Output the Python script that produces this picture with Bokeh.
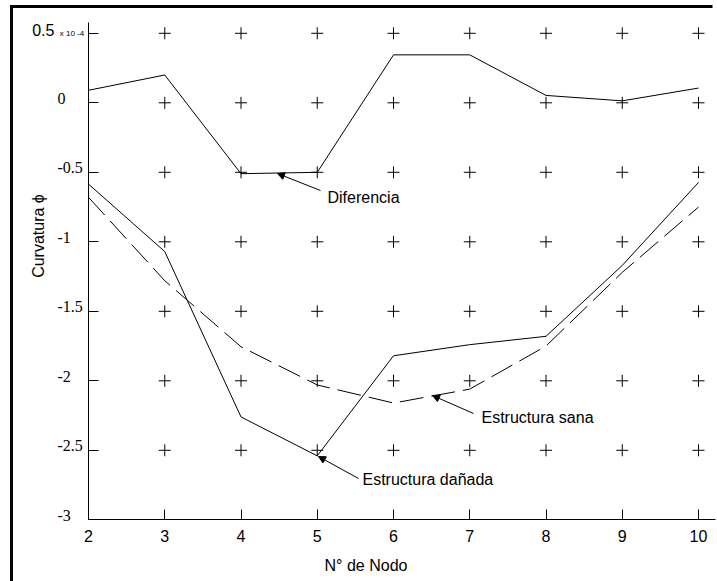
import math
from bokeh.plotting import figure
from bokeh.models import (Range1d, FixedTicker, Label, LabelSet, ColumnDataSource,
                          Arrow, NormalHead, BoxAnnotation, LinearAxis)
from bokeh.embed import file_html
from bokeh.resources import INLINE

# ---- data ----
nodes = [2, 3, 4, 5, 6, 7, 8, 9, 10]
diferencia = [0.09, 0.20, -0.51, -0.50, 0.345, 0.345, 0.053, 0.014, 0.106]
danada = [-0.585, -1.07, -2.26, -2.54, -1.82, -1.74, -1.68, -1.17, -0.573]
sana = [-0.68, -1.28, -1.755, -2.03, -2.16, -2.06, -1.75, -1.22, -0.75]

x_ticks = [2, 3, 4, 5, 6, 7, 8, 9, 10]
y_ticks = [-3, -2.5, -2, -1.5, -1, -0.5, 0, 0.5]
y_tick_labels = ["-3", "-2.5", "-2", "-1.5", "-1", "-0.5", "0", "0.5"]
x_title = "N° de Nodo"
y_title = "Curvatura ϕ"
y_multiplier = "x 10 -4"
annotation_texts = ["Diferencia", "Estructura sana", "Estructura dañada"]

FONT = "Liberation Sans"
W, H = 717, 581

# layout: the frame fills the whole canvas, axes are pinned at x=2 / y=-3
PX_X = 76.25           # pixels per x unit
PX_Y = 139.0           # pixels per y unit
X0_PX, YM3_PX = 88.0, 519.3   # pixel position of x=2 and y=-3
x_start = 2 - X0_PX / PX_X
x_end = 2 + (W - X0_PX) / PX_X
y_start = -3 - (H - YM3_PX) / PX_Y
y_end = -3 + YM3_PX / PX_Y
X_MAX = 10.223
Y_MAX = 0.575


def px2x(px):
    return x_start + px / PX_X


def px2y(py):
    return y_end - py / PX_Y


p = figure(width=W, height=H, output_backend="svg", toolbar_location=None,
           x_range=Range1d(x_start, x_end), y_range=Range1d(y_start, y_end),
           x_axis_location=None, y_axis_location=None,
           min_border_left=0, min_border_right=0, min_border_top=0,
           min_border_bottom=0)
p.outline_line_color = None
p.background_fill_color = "white"
p.border_fill_color = "white"
p.xgrid.visible = False
p.ygrid.visible = False

xaxis = LinearAxis(ticker=FixedTicker(ticks=x_ticks), fixed_location=-3,
                   bounds=(2, X_MAX))
yaxis = LinearAxis(ticker=FixedTicker(ticks=y_ticks), fixed_location=2,
                   bounds=(-3, Y_MAX))
yaxis.major_label_overrides = {t: "" for t in y_ticks}
for ax in (xaxis, yaxis):
    ax.major_tick_in = 10
    ax.major_tick_out = 0
    ax.minor_tick_line_color = None
    ax.axis_line_color = "black"
    ax.major_tick_line_color = "black"
    ax.major_label_text_font = FONT
    ax.major_label_text_font_size = "16px"
    ax.major_label_text_color = "black"
xaxis.major_label_standoff = 10
p.add_layout(xaxis, "below")
p.add_layout(yaxis, "left")

# "+" markers at grid intersections
gx, gy = [], []
for xv in x_ticks[1:]:
    for yv in y_ticks[1:]:
        gx.append(xv)
        gy.append(yv)
p.scatter(gx, gy, marker="cross", size=12, line_color="black", line_width=1)

# series
p.line(nodes, diferencia, line_color="black", line_width=1)
p.line(nodes, danada, line_color="black", line_width=1)
p.line(nodes, sana, line_color="black", line_width=1, line_dash="24 8")

# y tick labels (left aligned, as in the reference)
lab_src = ColumnDataSource(dict(
    x=[px2x(57)] * 7,
    y=[v + 4.5 / PX_Y for v in y_ticks[:7]],
    t=y_tick_labels[:7]))
p.add_layout(LabelSet(x="x", y="y", text="t", source=lab_src, text_align="left",
                      text_baseline="middle", text_font=FONT, text_font_size="16px",
                      text_color="black"))
p.add_layout(Label(x=px2x(31.7), y=y_ticks[7] + 3 / PX_Y,
                   text=y_tick_labels[7], text_align="left", text_baseline="middle",
                   text_font=FONT, text_font_size="16px", text_color="black"))
p.add_layout(Label(x=px2x(59.3), y=y_ticks[7],
                   text=y_multiplier, text_align="left", text_baseline="middle",
                   text_font=FONT, text_font_size="8px", text_color="black"))

# axis titles
p.add_layout(Label(x=px2x(365.5), y=px2y(565), text=x_title, text_align="center",
                   text_baseline="middle", text_font=FONT, text_font_size="16px",
                   text_color="black"))
p.add_layout(Label(x=px2x(38), y=px2y(235.5), text=y_title, angle=math.pi / 2,
                   text_align="center", text_baseline="middle", text_font=FONT,
                   text_font_size="16px", text_color="black"))

# annotations with arrows: text left/centre (px), arrow tail (px), arrow tip (px)
annots = [
    ((327, 197), (320, 190), (277, 173)),
    ((481, 417), (473, 413), (432, 395)),
    ((362, 479), (358, 478), (318, 456)),
]
for txt, (tpos, tail, tip) in zip(annotation_texts, annots):
    p.add_layout(Label(x=px2x(tpos[0]), y=px2y(tpos[1]), text=txt, text_align="left",
                       text_baseline="middle", text_font=FONT, text_font_size="16px",
                       text_color="black"))
    p.add_layout(Arrow(x_start=px2x(tail[0]), y_start=px2y(tail[1]),
                       x_end=px2x(tip[0]), y_end=px2y(tip[1]),
                       line_color="black", line_width=1,
                       end=NormalHead(size=7, fill_color="black", line_color="black",
                                      line_width=1)))

# outer frame: only its left and top edges are in the picture
p.add_layout(BoxAnnotation(left=px2x(9.5), right=px2x(12.5), top=px2y(4.5),
                           bottom=y_start, fill_color="black", fill_alpha=1,
                           line_color=None))
p.add_layout(BoxAnnotation(left=px2x(9.5), right=px2x(712), top=px2y(4.5),
                           bottom=px2y(7.5), fill_color="black", fill_alpha=1,
                           line_color=None))

open("out.html", "w").write(file_html(p, INLINE))
